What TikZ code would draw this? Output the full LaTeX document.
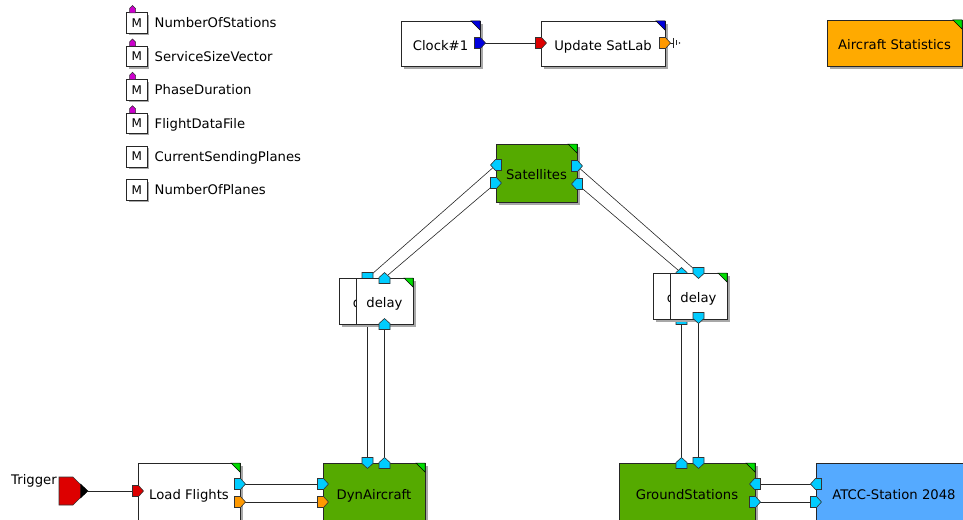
\documentclass[tikz,border=0pt]{standalone}
\usepackage{fontspec}
\setmainfont{DejaVu Sans}
\usetikzlibrary{shadows}

\definecolor{blkgreen}{HTML}{55AA00}
\definecolor{cornergreen}{HTML}{00DD00}
\definecolor{portcyan}{HTML}{00CCFF}
\definecolor{portorange}{HTML}{FF9900}
\definecolor{statorange}{HTML}{FFAA00}
\definecolor{atccblue}{HTML}{55AAFF}
\definecolor{portred}{HTML}{DD0000}
\definecolor{portblue}{HTML}{0000DD}
\definecolor{parmagenta}{HTML}{CC00CC}
\definecolor{shadowgray}{HTML}{A8A8A8}

% port glyph: pentagon centred on a named coordinate, pointing along the given angle
\newcommand\portat[3]{%
  \filldraw[fill=#3, draw=black!80, line width=0.6pt, shift={(#1)}, rotate=#2]
    (-5.5,-5.5) -- (0.5,-5.5) -- (5.5,0) -- (0.5,5.5) -- (-5.5,5.5) -- cycle;}
% small triangle in the top right corner of a block
\newcommand\cornermark[2]{%
  \filldraw[fill=#2, draw=black, line width=0.5pt]
    ([xshift=-9pt]#1.north east) -- (#1.north east) -- ([yshift=-9pt]#1.north east) -- cycle;}

\tikzset{
  blk/.style={draw=black!85, line width=0.7pt, inner sep=0pt, outer sep=0pt, fill=white,
    text height=13.2pt, text depth=0pt, font=\fontsize{13.2}{15}\selectfont,
    drop shadow={shadow xshift=3pt, shadow yshift=-3pt, fill=shadowgray, opacity=1}},
  mbox/.style={draw=black!85, line width=0.7pt, inner sep=0pt, outer sep=0pt, fill=white,
    minimum width=20.5pt, minimum height=20.5pt, text height=8.7pt, text depth=0pt,
    font=\fontsize{12}{14}\selectfont,
    drop shadow={shadow xshift=2pt, shadow yshift=-2pt, fill=shadowgray, opacity=1}},
  plabel/.style={font=\fontsize{13.2}{15}\selectfont, inner sep=0pt, anchor=base west},
  wire/.style={draw=black!85, line width=0.6pt},
}

\begin{document}
\begin{tikzpicture}[x=1pt,y=-1pt]
\useasboundingbox (0,0) rectangle (963,519);
\clip (0,0) rectangle (963,519);

% ---- port positions ----
\coordinate (clkout) at (480,43);
\coordinate (updin)  at (541,43);
\coordinate (updout) at (665,43);
\coordinate (term)   at (673,43);
\coordinate (satLa) at (496,165);
\coordinate (satLb) at (496,183);
\coordinate (satRa) at (577,166);
\coordinate (satRb) at (577,184);
\coordinate (dLbt) at (367.5,278);
\coordinate (dLft) at (384.5,278);
\coordinate (dLbb) at (367.5,324);
\coordinate (dLfb) at (384.5,324);
\coordinate (dRbt) at (681.5,273);
\coordinate (dRft) at (698.5,273);
\coordinate (dRbb) at (681.5,319);
\coordinate (dRfb) at (698.5,318);
\coordinate (dynA) at (367.5,463);
\coordinate (dynB) at (384.5,463);
\coordinate (dynC) at (323,484);
\coordinate (dynD) at (323,502);
\coordinate (lfA) at (240,484);
\coordinate (lfB) at (240,502);
\coordinate (lfin) at (138,491);
\coordinate (gsA) at (681.5,463);
\coordinate (gsB) at (698.5,463);
\coordinate (gsC) at (755,484);
\coordinate (gsD) at (755,502);
\coordinate (atA) at (816,484);
\coordinate (atB) at (816,502);
\coordinate (trig) at (88,491);

% ---- connectors ----
\draw[wire] (clkout) -- (updin);
\draw[wire] (updout) -- (term);
\draw[wire] (satLa) -- (dLbt);
\draw[wire] (satLb) -- (dLft);
\draw[wire] (satRa) -- (dRft);
\draw[wire] (satRb) -- (dRbt);
\draw[wire] (dLbb) -- (dynA);
\draw[wire] (dLfb) -- (dynB);
\draw[wire] (dRbb) -- (gsA);
\draw[wire] (dRfb) -- (gsB);
\draw[wire] (trig) -- (lfin);
\draw[wire] (lfA) -- (dynC);
\draw[wire] (lfB) -- (dynD);
\draw[wire] (gsC) -- (atA);
\draw[wire] (gsD) -- (atB);

% open end after the SatLab output
\draw[black!85, line width=0.7pt] (673,38) -- (673,48);
\draw[black!85, line width=0.6pt] (676,40.5) -- (676,45.5);
\fill[black!85] (679.5,43) circle (0.8);

% ---- model parameters ----
\foreach \i/\lab/\mk in {1/NumberOfStations/1, 2/ServiceSizeVector/1, 3/PhaseDuration/1,
                         4/FlightDataFile/1, 5/CurrentSendingPlanes/0, 6/NumberOfPlanes/0} {
  \pgfmathsetmacro\yy{23+33.4*(\i-1)}
  \node[mbox] (m\i) at (136.8,\yy) {M};
  \node[plabel] (t\i) at (154.5,\yy+4.8) {\lab};
  \ifnum\mk=1
    \filldraw[fill=parmagenta, draw=black!80, line width=0.5pt]
      (129.5,\yy-10.2) -- (129.5,\yy-14.5) -- (132.5,\yy-17.5) -- (135.5,\yy-14.5) -- (135.5,\yy-10.2) -- cycle;
  \fi
}

% ---- top row ----
\node[blk, minimum width=79pt, minimum height=45pt] (clock) at (440.5,43.5) {Clock\#1};
\cornermark{clock}{portblue}
\node[blk, minimum width=124pt, minimum height=45pt] (satlab) at (603,43.5) {Update SatLab};
\cornermark{satlab}{portblue}
\node[blk, fill=statorange, minimum width=135pt, minimum height=46pt] (stats) at (894.5,43) {Aircraft Statistics};
\cornermark{stats}{cornergreen}
\portat{clkout}{0}{portblue}
\portat{updin}{0}{portred}
\portat{updout}{0}{portorange}

% ---- satellites ----
\node[blk, fill=blkgreen, minimum width=81pt, minimum height=58pt] (sat) at (536.5,173) {Satellites};
\cornermark{sat}{cornergreen}
\portat{satLa}{180}{portcyan}
\portat{satLb}{0}{portcyan}
\portat{satRa}{0}{portcyan}
\portat{satRb}{180}{portcyan}

% ---- delay blocks (two stacked copies each) ----
\node[blk, minimum width=57pt, minimum height=46pt] (delayLb) at (367.5,301) {\hspace*{7pt}delay};
\portat{dLbt}{-90}{portcyan}
\node[blk, minimum width=57pt, minimum height=46pt] (delayLf) at (384.5,301) {delay};
\cornermark{delayLf}{cornergreen}
\portat{dLft}{90}{portcyan}
\portat{dLfb}{90}{portcyan}

\node[blk, minimum width=57pt, minimum height=46pt] (delayRb) at (681.5,296) {\hspace*{7pt}delay};
\portat{dRbt}{90}{portcyan}
\portat{dRbb}{90}{portcyan}
\node[blk, minimum width=57pt, minimum height=46pt] (delayRf) at (698.5,296) {delay};
\cornermark{delayRf}{cornergreen}
\portat{dRft}{-90}{portcyan}
\portat{dRfb}{-90}{portcyan}

% ---- trigger ----
\node[font=\fontsize{13.2}{15}\selectfont, inner sep=0pt, anchor=base west] (triglabel) at (11,484.5) {Trigger};
\filldraw[fill=portred, draw=black!80, line width=0.6pt]
  (59,477) -- (73,477) -- (81,485) -- (81,497) -- (73,505) -- (59,505) -- cycle;
\filldraw[fill=black, draw=black] (80.5,484) -- (88,491) -- (80.5,498) -- cycle;

% ---- bottom row ----
\node[blk, minimum width=102pt, minimum height=60pt] (load) at (189,493) {Load Flights};
\cornermark{load}{cornergreen}
\portat{lfin}{0}{portred}
\portat{lfA}{0}{portcyan}
\portat{lfB}{0}{portorange}

\node[blk, fill=blkgreen, minimum width=102pt, minimum height=60pt] (dyn) at (374,493) {DynAircraft};
\cornermark{dyn}{cornergreen}
\portat{dynA}{-90}{portcyan}
\portat{dynB}{90}{portcyan}
\portat{dynC}{0}{portcyan}
\portat{dynD}{0}{portorange}

\node[blk, fill=blkgreen, minimum width=136pt, minimum height=60pt] (ground) at (687,493) {GroundStations};
\cornermark{ground}{cornergreen}
\portat{gsA}{90}{portcyan}
\portat{gsB}{-90}{portcyan}
\portat{gsC}{180}{portcyan}
\portat{gsD}{0}{portcyan}

\node[blk, fill=atccblue, minimum width=156pt, minimum height=60pt] (atcc) at (894,493) {ATCC-Station 2048};
\portat{atA}{180}{portcyan}
\portat{atB}{0}{portcyan}
\end{tikzpicture}
\end{document}
